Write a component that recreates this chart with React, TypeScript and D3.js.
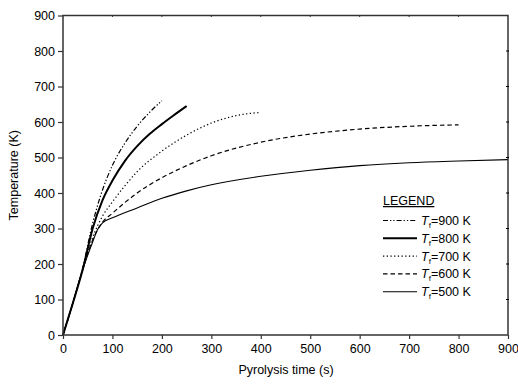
import * as d3 from "d3";
import { useEffect, useRef } from "react";

type Pt = [number, number];

const xTicks = [0, 100, 200, 300, 400, 500, 600, 700, 800, 900];
const yTicks = [0, 100, 200, 300, 400, 500, 600, 700, 800, 900];

const seriesNames = ["900 K", "800 K", "700 K", "600 K", "500 K"];

const t900: Pt[] = [[0, 0], [20, 90], [40, 190], [60, 315], [75, 388], [100, 478], [125, 540], [150, 588], [175, 627], [200, 660]];
const t800: Pt[] = [[0, 0], [20, 90], [40, 185], [60, 300], [80, 380], [100, 435], [125, 490], [150, 532], [175, 566], [200, 594], [225, 620], [250, 645]];
const t700: Pt[] = [[0, 0], [20, 90], [40, 185], [60, 275], [80, 335], [100, 375], [125, 420], [150, 460], [200, 518], [250, 563], [300, 597], [350, 618], [400, 627]];
const t600: Pt[] = [[0, 0], [20, 90], [40, 185], [60, 268], [80, 318], [100, 343], [125, 373], [150, 400], [200, 443], [250, 477], [300, 505], [400, 543], [500, 566], [600, 580], [700, 588], [800, 592]];
const t500: Pt[] = [[0, 0], [20, 90], [40, 185], [60, 262], [70, 297], [80, 316], [100, 330], [150, 358], [200, 385], [250, 406], [300, 423], [400, 447], [500, 464], [600, 477], [700, 485], [800, 490], [900, 494]];

const seriesData = [t900, t800, t700, t600, t500];

const styles = [
  { width: 1.2, dash: "5,2,1.3,2,1.3,2" },
  { width: 2, dash: "" },
  { width: 1.2, dash: "1.3,2.4" },
  { width: 1.2, dash: "4.5,3" },
  { width: 1.1, dash: "" },
];

const App = () => {
  const ref = useRef<SVGSVGElement | null>(null);

  useEffect(() => {
    if (!ref.current) return;
    const svg = d3.select(ref.current);
    svg.selectAll("*").remove();

    // svg is pinned to the page's top-left, so these are page pixels
    const left = 63, right = 508, top = 15.5, bottom = 335;
    const font = "Liberation Sans, Arial, sans-serif";
    const axisColor = "#333";

    const x = d3.scaleLinear().domain([0, 900]).range([left, right]);
    const y = d3.scaleLinear().domain([0, 900]).range([bottom, top]);

    const g = svg.append("g");

    // curves
    const line = d3
      .line<Pt>()
      .x((d) => x(d[0]))
      .y((d) => y(d[1]))
      .curve(d3.curveMonotoneX);

    seriesData.forEach((s, i) => {
      g.append("path")
        .attr("d", line(s)!)
        .attr("fill", "none")
        .attr("stroke", "#000")
        .attr("stroke-width", styles[i].width)
        .attr("stroke-dasharray", styles[i].dash || null);
    });

    // frame
    g.append("rect")
      .attr("x", left)
      .attr("y", top)
      .attr("width", right - left)
      .attr("height", bottom - top)
      .attr("fill", "none")
      .attr("stroke", axisColor)
      .attr("stroke-width", 1.5);

    // bottom axis
    const xAxis = g
      .append("g")
      .attr("transform", `translate(0,${bottom})`)
      .call(d3.axisBottom(x).tickValues(xTicks).tickSize(4).tickSizeOuter(0));
    xAxis.select(".domain").remove();
    xAxis.selectAll("line").attr("stroke", axisColor).attr("stroke-width", 1.2);
    xAxis
      .selectAll("text")
      .attr("font-family", font)
      .attr("font-size", 12.5)
      .attr("fill", "#000")
      .attr("dy", "0.85em");

    // left axis
    const yAxis = g
      .append("g")
      .attr("transform", `translate(${left},0)`)
      .call(d3.axisLeft(y).tickValues(yTicks).tickSize(5).tickSizeOuter(0));
    yAxis.select(".domain").remove();
    yAxis.selectAll("line").attr("stroke", axisColor).attr("stroke-width", 1.2);
    yAxis.selectAll("text").attr("font-family", font).attr("font-size", 12.5).attr("fill", "#000").attr("x", -8);

    // mirror ticks
    g.selectAll(".tt")
      .data(xTicks.slice(1, -1))
      .enter()
      .append("line")
      .attr("x1", (d) => x(d))
      .attr("x2", (d) => x(d))
      .attr("y1", top)
      .attr("y2", top + 1.5)
      .attr("stroke", axisColor);
    g.selectAll(".rt")
      .data(yTicks.slice(1, -1))
      .enter()
      .append("line")
      .attr("x1", right - 2)
      .attr("x2", right + 1)
      .attr("y1", (d) => y(d))
      .attr("y2", (d) => y(d))
      .attr("stroke", "#000");

    // axis titles
    g.append("text")
      .attr("x", 286)
      .attr("y", 374)
      .attr("text-anchor", "middle")
      .attr("font-family", font)
      .attr("font-size", 12.5)
      .text("Pyrolysis time (s)");
    g.append("text")
      .attr("transform", `translate(18,${(top + bottom) / 2}) rotate(-90)`)
      .attr("text-anchor", "middle")
      .attr("font-family", font)
      .attr("font-size", 12.5)
      .text("Temperature (K)");

    // legend
    const lx = 383, ly = 205;
    g.append("text")
      .attr("x", lx)
      .attr("y", ly)
      .attr("font-family", font)
      .attr("font-size", 12.5)
      .attr("text-decoration", "underline")
      .text("LEGEND");
    seriesNames.forEach((name, i) => {
      const yy = ly + 15.5 + i * 17.8;
      g.append("line")
        .attr("x1", lx)
        .attr("x2", lx + 34)
        .attr("y1", yy)
        .attr("y2", yy)
        .attr("stroke", "#000")
        .attr("stroke-width", styles[i].width)
        .attr("stroke-dasharray", styles[i].dash || null);
      const t = g
        .append("text")
        .attr("x", lx + 38)
        .attr("y", yy + 4.5)
        .attr("font-family", font)
        .attr("font-size", 12.5);
      t.append("tspan").attr("font-style", "italic").text("T");
      t.append("tspan").attr("font-size", 8).attr("dy", 3).text("f");
      t.append("tspan").attr("dy", -3).text("=" + name);
    });
  }, []);

  return (
    <div>
      <svg
        ref={ref}
        width={518}
        height={384}
        style={{ position: "fixed", left: 0, top: 0, display: "block", background: "#fff" }}
      ></svg>
    </div>
  );
};

export default App;
